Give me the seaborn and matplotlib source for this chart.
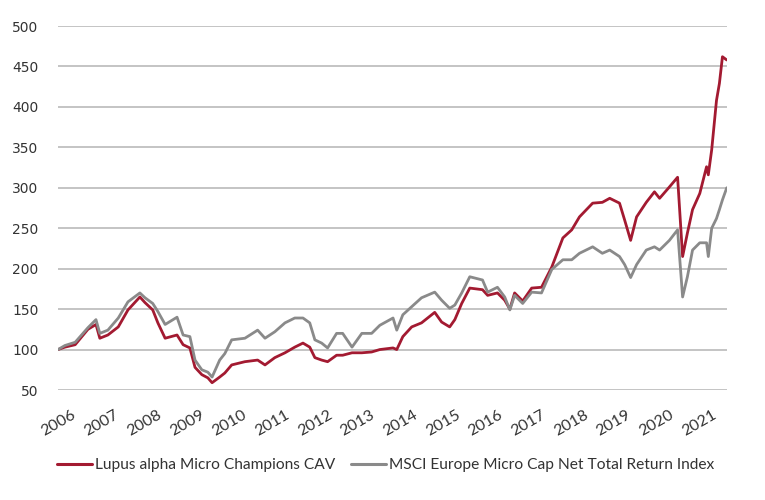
import pandas as pd
import numpy as np
import matplotlib.pyplot as plt
import matplotlib.transforms as mtransforms
from matplotlib.lines import Line2D
import seaborn as sns

# Dates and index values (start = 100)
dates = ['2005-08-07', '2005-10-05', '2006-01-01', '2006-04-20', '2006-06-28',
         '2006-07-31', '2006-10-08', '2007-01-05', '2007-03-29', '2007-07-09',
         '2007-08-22', '2007-10-27', '2007-12-10', '2008-02-10', '2008-05-22',
         '2008-07-13', '2008-09-09', '2008-10-23', '2008-12-20', '2009-02-10',
         '2009-03-18', '2009-05-22', '2009-07-05', '2009-09-02', '2009-12-24',
         '2010-04-12', '2010-06-14', '2010-09-06', '2010-12-02', '2011-02-24',
         '2011-05-05', '2011-07-02', '2011-08-15', '2011-10-12', '2011-12-02',
         '2012-02-17', '2012-04-09', '2012-06-28', '2012-09-20', '2012-12-13',
         '2013-02-21', '2013-06-14', '2013-07-16', '2013-09-06', '2013-11-21',
         '2014-02-13', '2014-06-06', '2014-08-04', '2014-10-12', '2014-11-25',
         '2015-01-23', '2015-04-02', '2015-07-20', '2015-09-02', '2015-11-25',
         '2016-01-26', '2016-03-10', '2016-04-20', '2016-06-28', '2016-09-13',
         '2016-12-06', '2017-03-04', '2017-06-07', '2017-08-22', '2017-10-27',
         '2018-02-17', '2018-05-11', '2018-07-13', '2018-10-05', '2018-11-18',
         '2019-01-08', '2019-02-28', '2019-05-22', '2019-07-31', '2019-09-13',
         '2019-12-06', '2020-02-14', '2020-03-28', '2020-05-08', '2020-06-21',
         '2020-08-22', '2020-10-19', '2020-11-03', '2020-12-02', '2021-01-12',
         '2021-02-06', '2021-03-04', '2021-04-10']

lupus = [100, 103, 106, 125, 131, 114, 118, 128, 149, 165,
         158, 149, 133, 114, 118, 106, 102, 78, 69, 65,
         59, 66, 71, 81, 85, 87, 81, 90, 96, 103,
         108, 103, 90, 87, 85, 93, 93, 96, 96, 97,
         100, 102, 100, 116, 128, 133, 146, 134, 128, 137,
         157, 176, 174, 167, 170, 161, 150, 170, 160, 176,
         177, 202, 238, 248, 264, 281, 282, 287, 281, 260,
         235, 264, 282, 295, 287, 301, 313, 215, 244, 273,
         293, 326, 316, 347, 408, 429, 462, 458]

msci = [100, 105, 109, 127, 137, 120, 124, 139, 159, 170,
        164, 157, 147, 131, 140, 118, 116, 87, 75, 72,
        66, 87, 95, 112, 114, 124, 114, 122, 133, 139,
        139, 133, 112, 108, 102, 120, 120, 103, 120, 120,
        130, 139, 124, 143, 153, 164, 171, 161, 151, 155,
        170, 190, 186, 171, 177, 165, 149, 167, 157, 171,
        170, 199, 211, 211, 219, 227, 219, 223, 215, 205,
        189, 205, 223, 227, 223, 235, 248, 165, 190, 223,
        232, 232, 215, 250, 262, 273, 285, 300]

names = ['Lupus alpha Micro Champions CAV',
         'MSCI Europe Micro Cap Net Total Return Index']
years = list(range(2006, 2022))
y_ticks = list(range(50, 501, 50))
colors = {names[0]: '#a31a31', names[1]: '#8a8a8a'}

# Long format table for seaborn
df = pd.DataFrame({
    'date': pd.to_datetime(dates * 2),
    'value': lupus + msci,
    'series': [names[0]] * len(dates) + [names[1]] * len(dates),
})

sns.set_style("white")
plt.rcParams['font.family'] = ['DejaVu Sans']

fig = plt.figure(figsize=(7.65, 5), dpi=100)
ax = fig.add_axes([58 / 765, 0.22, (727 - 58) / 765, 0.728])

sns.lineplot(data=df, x='date', y='value', hue='series', palette=colors,
             linewidth=2.0, legend=False, ax=ax, zorder=3)

ax.set_ylim(50, 500)
ax.set_xlim(pd.Timestamp('2005-08-07'), pd.Timestamp('2021-04-12'))
ax.set_yticks(y_ticks)
ax.yaxis.grid(True, color='#c4c4c4', linewidth=1.4)
ax.xaxis.grid(False)
for s in ax.spines.values():
    s.set_visible(False)

# Rotated year labels, nudged a little to the right
ax.set_xticks([pd.Timestamp(f'{y}-01-01') for y in years])
ax.set_xticklabels([str(y) for y in years], rotation=30, ha='right',
                   rotation_mode='anchor', va='center',
                   fontfamily='Lato', fontsize=11.5, color='#333333')
shift = mtransforms.ScaledTranslation(0.05, 0, fig.dpi_scale_trans)
for lab in ax.get_xticklabels():
    lab.set_transform(lab.get_transform() + shift)
ax.tick_params(axis='x', length=0, pad=17)
ax.tick_params(axis='y', length=0, pad=14, labelsize=10, labelcolor='#333333')
ax.set_xlabel('')
ax.set_ylabel('')

# Legend at the bottom
handles = [Line2D([], [], color=colors[n], linewidth=2.2) for n in names]
fig.legend(handles, names, loc='center', bbox_to_anchor=(386 / 765, 1 - 465 / 500),
           ncol=2, frameon=False, handlelength=2.2, handletextpad=0.25,
           columnspacing=1.0, prop={'family': 'Lato', 'size': 11.2},
           labelcolor='#333333')

plt.savefig('out.png', dpi=100)
plt.close()
